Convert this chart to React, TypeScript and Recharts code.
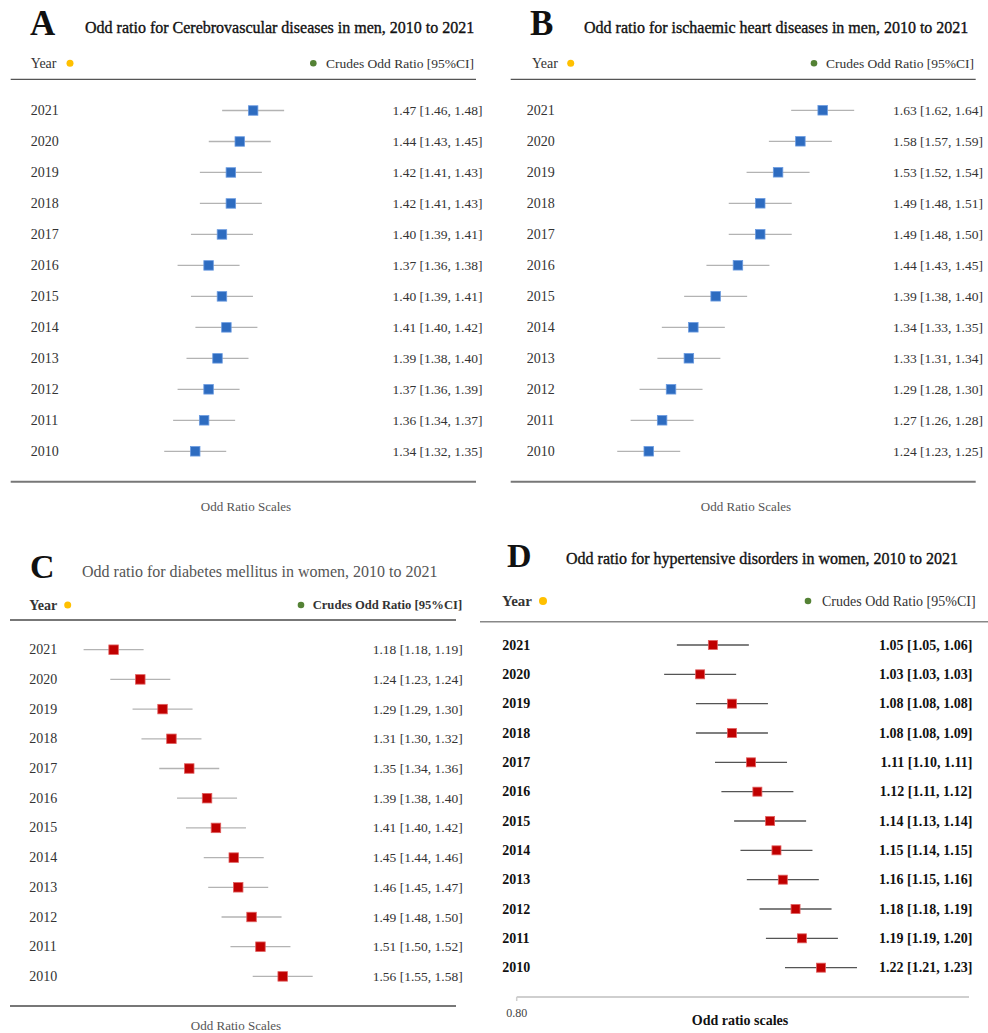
import { ScatterChart, Scatter, XAxis, YAxis } from "recharts";

const YEARS = [2021, 2020, 2019, 2018, 2017, 2016, 2015, 2014, 2013, 2012, 2011, 2010];

// A: cerebrovascular diseases, men
const OR_A = [1.47, 1.44, 1.42, 1.42, 1.4, 1.37, 1.4, 1.41, 1.39, 1.37, 1.36, 1.34];
const LO_A = [1.46, 1.43, 1.41, 1.41, 1.39, 1.36, 1.39, 1.4, 1.38, 1.36, 1.34, 1.32];
const HI_A = [1.48, 1.45, 1.43, 1.43, 1.41, 1.38, 1.41, 1.42, 1.4, 1.39, 1.37, 1.35];

// B: ischaemic heart diseases, men
const OR_B = [1.63, 1.58, 1.53, 1.49, 1.49, 1.44, 1.39, 1.34, 1.33, 1.29, 1.27, 1.24];
const LO_B = [1.62, 1.57, 1.52, 1.48, 1.48, 1.43, 1.38, 1.33, 1.31, 1.28, 1.26, 1.23];
const HI_B = [1.64, 1.59, 1.54, 1.51, 1.5, 1.45, 1.4, 1.35, 1.34, 1.3, 1.28, 1.25];

// C: diabetes mellitus, women
const OR_C = [1.18, 1.24, 1.29, 1.31, 1.35, 1.39, 1.41, 1.45, 1.46, 1.49, 1.51, 1.56];
const LO_C = [1.18, 1.23, 1.29, 1.3, 1.34, 1.38, 1.4, 1.44, 1.45, 1.48, 1.5, 1.55];
const HI_C = [1.19, 1.24, 1.3, 1.32, 1.36, 1.4, 1.42, 1.46, 1.47, 1.5, 1.52, 1.58];

// D: hypertensive disorders, women
const OR_D = [1.05, 1.03, 1.08, 1.08, 1.11, 1.12, 1.14, 1.15, 1.16, 1.18, 1.19, 1.22];
const LO_D = [1.05, 1.03, 1.08, 1.08, 1.1, 1.11, 1.13, 1.14, 1.15, 1.18, 1.19, 1.21];
const HI_D = [1.06, 1.03, 1.08, 1.09, 1.11, 1.12, 1.14, 1.15, 1.16, 1.19, 1.2, 1.23];
const D_TICK_LABEL = "0.80";

const FONT = "'Liberation Serif', 'DejaVu Serif', serif";

type Row = { year: number; or: number; lo: number; hi: number };

const rows = (or: number[], lo: number[], hi: number[]): Row[] =>
  YEARS.map((year, i) => ({ year, or: or[i], lo: lo[i], hi: hi[i] }));

const ciLabel = (r: Row) => `${r.or.toFixed(2)} [${r.lo.toFixed(2)}, ${r.hi.toFixed(2)}]`;

type PanelProps = {
  left: number;
  top: number;
  height: number;
  data: Row[];
  xDomain: [number, number];
  yDomain: [number, number];
  mTop: number;
  mBottom: number;
  leftW: number;
  rightW: number;
  yearX: number;
  labelX: number;
  bold?: boolean;
  fill: string;
  edge: string;
  whisker: string;
  half: number;
  size: number;
  showAxis?: boolean;
};

function Panel(p: PanelProps) {
  const byYear = new Map(p.data.map((r) => [r.year, r]));
  const weight = p.bold ? 700 : 400;
  const color = p.bold ? "#111" : "#333";
  const shape = (s: any) => (
    <g>
      <line x1={s.cx - p.half} x2={s.cx + p.half} y1={s.cy} y2={s.cy} stroke={p.whisker} strokeWidth={1.3} />
      <rect
        x={s.cx - p.size / 2}
        y={s.cy - p.size / 2}
        width={p.size}
        height={p.size}
        fill={p.fill}
        stroke={p.edge}
        strokeWidth={0.8}
      />
    </g>
  );
  // year on the left, odds ratio with CI on the right of each row
  const rowTick = (t: any) => {
    const r = byYear.get(t.payload.value);
    return (
      <g fontFamily={FONT} fontWeight={weight} fill={color}>
        <text x={p.yearX} y={t.y} dominantBaseline="central" fontSize={14}>
          {t.payload.value}
        </text>
        <text
          x={p.labelX}
          y={t.y}
          dominantBaseline="central"
          textAnchor="end"
          fontSize={p.bold ? 14 : 13.5}
        >
          {r ? ciLabel(r) : ""}
        </text>
      </g>
    );
  };
  return (
    <div style={{ position: "absolute", left: p.left, top: p.top }}>
      <ScatterChart
        width={494}
        height={p.height}
        margin={{ top: p.mTop, bottom: p.mBottom, left: 0, right: p.rightW }}
      >
        <XAxis
          type="number"
          dataKey="or"
          domain={p.xDomain}
          hide={!p.showAxis}
          height={p.showAxis ? 30 : 0}
          ticks={[p.xDomain[0]]}
          tickFormatter={() => D_TICK_LABEL}
          axisLine={{ stroke: "#cfcfcf", strokeWidth: 2 }}
          tickLine={{ stroke: "#cfcfcf", strokeWidth: 1.5 }}
          tickSize={4}
          tickMargin={7}
          tick={{ fill: "#444", fontSize: 12, fontFamily: FONT }}
        />
        <YAxis
          type="number"
          dataKey="year"
          domain={p.yDomain}
          ticks={YEARS}
          interval={0}
          width={p.leftW}
          axisLine={false}
          tickLine={false}
          tick={rowTick}
        />
        <Scatter data={p.data} shape={shape} isAnimationActive={false} />
      </ScatterChart>
    </div>
  );
}

type HeaderProps = {
  letter: string;
  letterX: number;
  letterY: number;
  letterSize: number;
  title: string;
  titleX: number;
  titleY: number;
  titleFill: string;
  yearX: number;
  headY: number;
  headSize: number;
  headBold: boolean;
  orangeX: number;
  greenX: number;
  ciX: number;
  ciSize: number;
  ciBold: boolean;
  dotR: number;
};

function Header(h: HeaderProps) {
  return (
    <g fontFamily={FONT}>
      <text x={h.letterX} y={h.letterY} fontSize={h.letterSize} fontWeight={700} fill="#111">
        {h.letter}
      </text>
      <text x={h.titleX} y={h.titleY} fontSize={16} fill={h.titleFill} stroke={h.titleFill === "#111" ? "#111" : "none"} strokeWidth={0.35}>
        {h.title}
      </text>
      <text
        x={h.yearX}
        y={h.headY}
        dominantBaseline="central"
        fontSize={h.headSize}
        fontWeight={h.headBold ? 700 : 400}
        fill="#333"
      >
        Year
      </text>
      <circle cx={h.orangeX} cy={h.headY} r={h.dotR} fill="#ffc000" />
      <circle cx={h.greenX} cy={h.headY} r={3.3} fill="#548235" />
      <text
        x={h.ciX}
        y={h.headY}
        dominantBaseline="central"
        fontSize={h.ciSize}
        fontWeight={h.ciBold ? 700 : 400}
        fill="#333"
      >
        Crudes Odd Ratio [95%CI]
      </text>
    </g>
  );
}

export default function App() {
  return (
    <div style={{ position: "absolute", left: 0, top: 0, width: 988, height: 1033, background: "#fff", overflow: "hidden" }}>
      <Panel
        left={0}
        top={0}
        height={520}
        data={rows(OR_A, LO_A, HI_A)}
        xDomain={[1.1, 1.7]}
        yDomain={[2010, 2021]}
        mTop={110.5}
        mBottom={68.7}
        leftW={88.3}
        rightW={138.4}
        yearX={30.7}
        labelX={482.5}
        fill="#2e6cc0"
        edge="#6b9be0"
        whisker="#b3b3b3"
        half={31}
        size={9.5}
      />
      <Panel
        left={494}
        top={0}
        height={520}
        data={rows(OR_B, LO_B, HI_B)}
        xDomain={[1.1, 1.8]}
        yDomain={[2010, 2021]}
        mTop={110.3}
        mBottom={68.7}
        leftW={92.3}
        rightW={89.5}
        yearX={32.7}
        labelX={489}
        fill="#2e6cc0"
        edge="#6b9be0"
        whisker="#b3b3b3"
        half={31.5}
        size={9.5}
      />
      <Panel
        left={0}
        top={520}
        height={513}
        data={rows(OR_C, LO_C, HI_C)}
        xDomain={[1.0, 1.7]}
        yDomain={[2010, 2021]}
        mTop={129.7}
        mBottom={56.6}
        leftW={33.5}
        rightW={149}
        yearX={29.3}
        labelX={462.7}
        fill="#c00000"
        edge="#e06060"
        whisker="#b3b3b3"
        half={30}
        size={9.5}
      />
      <Panel
        left={494}
        top={520}
        height={513}
        data={rows(OR_D, LO_D, HI_D)}
        xDomain={[0.7416, 1.4527]}
        yDomain={[2009, 2021]}
        mTop={125}
        mBottom={6}
        leftW={22.7}
        rightW={19}
        yearX={8.3}
        labelX={478.3}
        bold
        fill="#c00000"
        edge="#e06060"
        whisker="#555"
        half={36}
        size={9}
        showAxis
      />
      <svg
        width={988}
        height={1033}
        style={{ position: "absolute", left: 0, top: 0, pointerEvents: "none" }}
      >
        <Header
          letter="A"
          letterX={30}
          letterY={35}
          letterSize={35}
          title="Odd ratio for Cerebrovascular diseases in men, 2010 to 2021"
          titleX={85}
          titleY={33}
          titleFill="#111"
          yearX={30.7}
          headY={63.3}
          headSize={14}
          headBold={false}
          orangeX={70}
          greenX={313.3}
          ciX={326}
          ciSize={13.5}
          ciBold={false}
          dotR={3.5}
        />
        <Header
          letter="B"
          letterX={530}
          letterY={35}
          letterSize={35}
          title="Odd ratio for ischaemic heart diseases in men, 2010 to 2021"
          titleX={584}
          titleY={33}
          titleFill="#111"
          yearX={532}
          headY={63.3}
          headSize={14}
          headBold={false}
          orangeX={570.7}
          greenX={814}
          ciX={826}
          ciSize={13.5}
          ciBold={false}
          dotR={3.5}
        />
        <Header
          letter="C"
          letterX={30}
          letterY={578}
          letterSize={34}
          title="Odd ratio for diabetes mellitus in women, 2010 to 2021"
          titleX={82}
          titleY={577}
          titleFill="#555"
          yearX={29.3}
          headY={605}
          headSize={14}
          headBold
          orangeX={67.7}
          greenX={301}
          ciX={312.7}
          ciSize={12.6}
          ciBold
          dotR={3.5}
        />
        <Header
          letter="D"
          letterX={507}
          letterY={567}
          letterSize={34}
          title="Odd ratio for hypertensive disorders in women, 2010 to 2021"
          titleX={566}
          titleY={564}
          titleFill="#111"
          yearX={502}
          headY={601}
          headSize={15}
          headBold
          orangeX={543}
          greenX={808}
          ciX={822}
          ciSize={14}
          ciBold={false}
          dotR={4}
        />
        <line x1={10.7} x2={476} y1={79.3} y2={79.3} stroke="#555" strokeWidth={1.3} />
        <line x1={510.7} x2={975.7} y1={79.3} y2={79.3} stroke="#555" strokeWidth={1.3} />
        <line x1={10} x2={456} y1={620} y2={620} stroke="#777" strokeWidth={2} />
        <line x1={480} x2={988} y1={621.7} y2={621.7} stroke="#888" strokeWidth={1.5} />
        <line x1={10.7} x2={476} y1={481.7} y2={481.7} stroke="#777" strokeWidth={2} />
        <line x1={510.7} x2={975.7} y1={481.7} y2={481.7} stroke="#777" strokeWidth={2} />
        <line x1={10} x2={456} y1={1006} y2={1006} stroke="#777" strokeWidth={2} />
        <g fontFamily={FONT} textAnchor="middle">
          <text x={246} y={511} fontSize={13} fill="#555">Odd Ratio Scales</text>
          <text x={746} y={511} fontSize={13} fill="#555">Odd Ratio Scales</text>
          <text x={236} y={1030} fontSize={13} fill="#555">Odd Ratio Scales</text>
          <text x={740} y={1025} fontSize={14} fontWeight={700} fill="#111">Odd ratio scales</text>
        </g>
      </svg>
    </div>
  );
}
